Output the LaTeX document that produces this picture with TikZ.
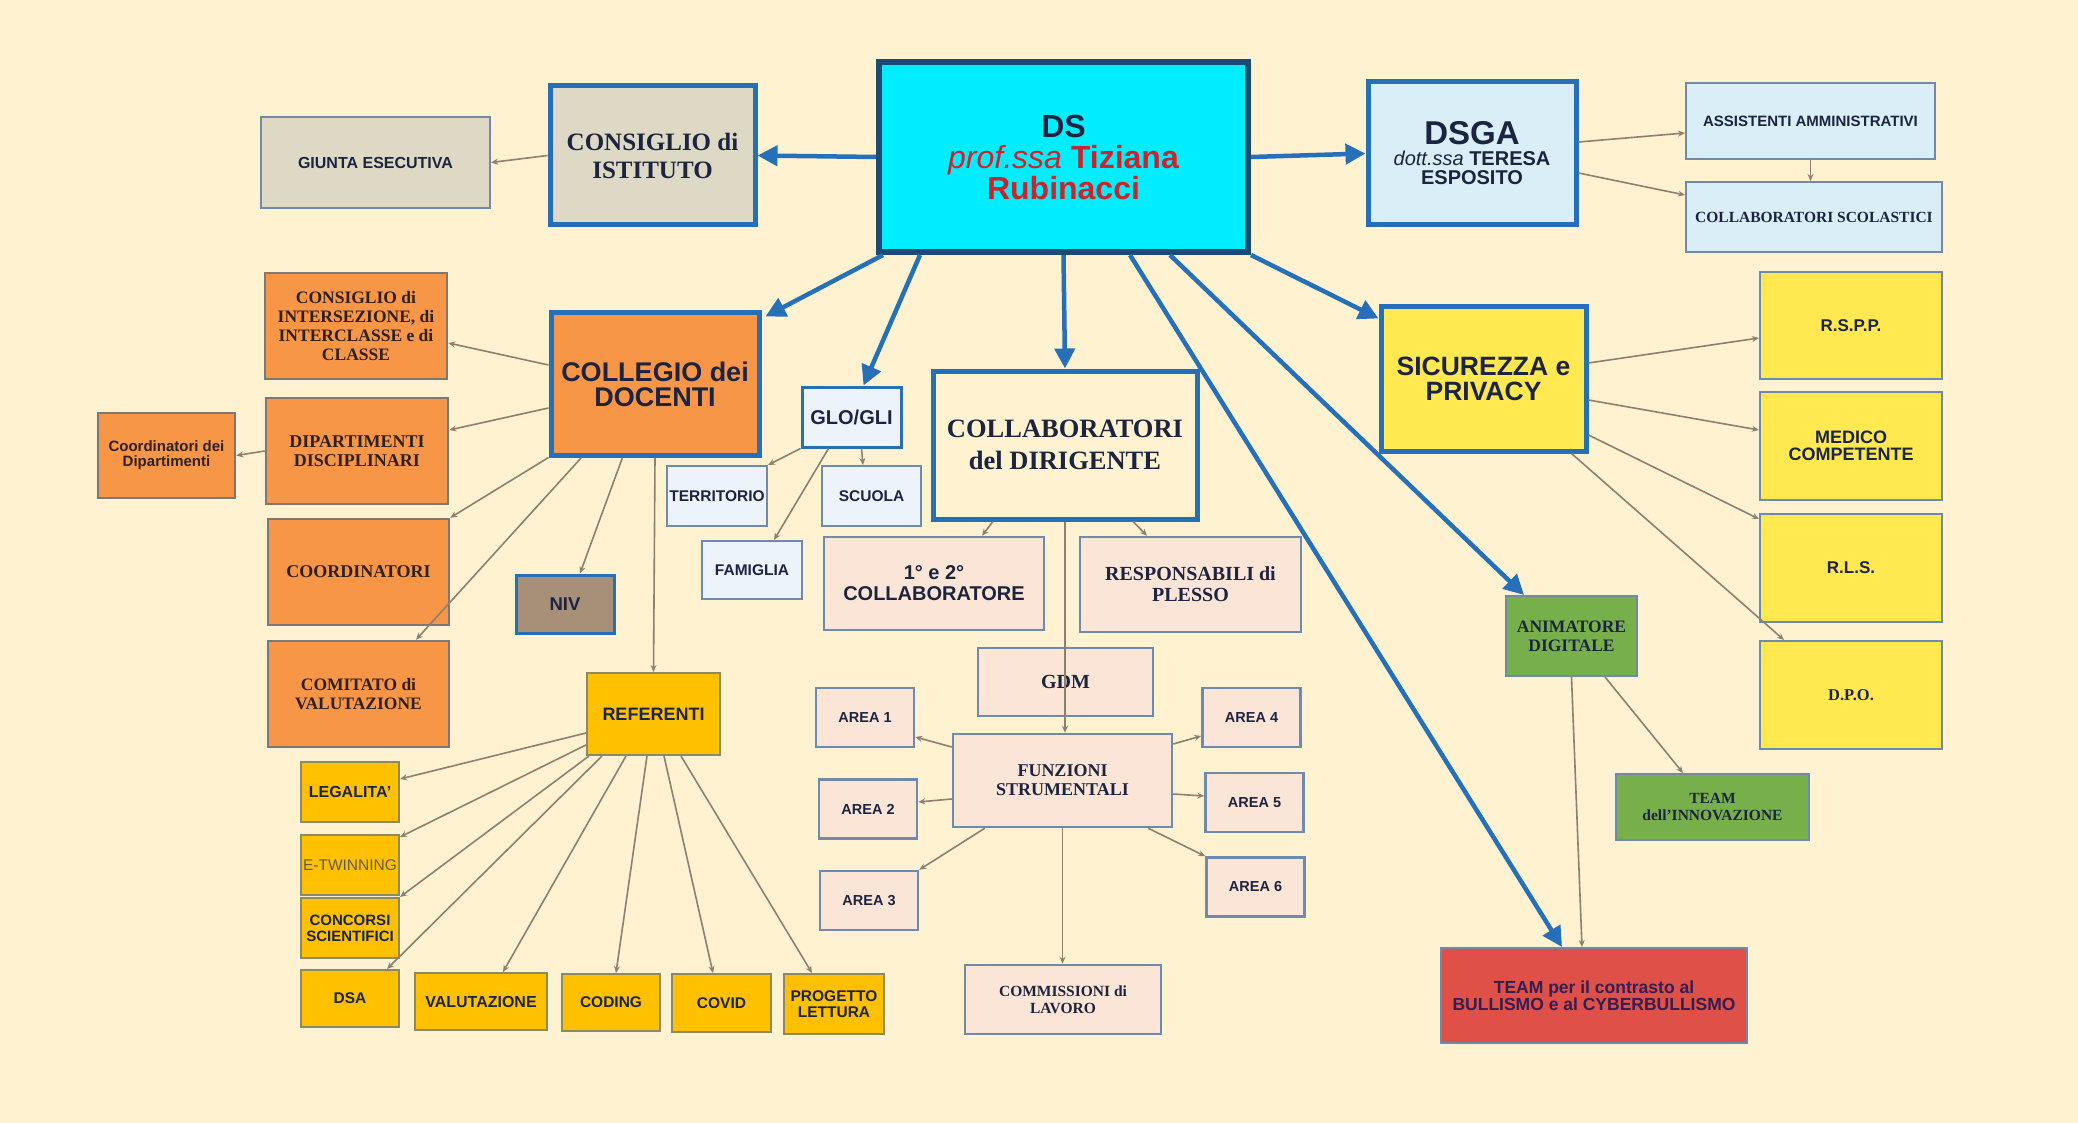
\documentclass[tikz,border=0pt]{standalone}
\usepackage{fontspec}
\setmainfont{Liberation Serif}
\setsansfont{Liberation Sans}
\usetikzlibrary{arrows.meta}

\definecolor{bgCream}{RGB}{254,242,208}
\definecolor{dsCyan}{RGB}{0,236,255}
\definecolor{dsBorder}{RGB}{27,74,116}
\definecolor{mainBlue}{RGB}{38,112,186}
\definecolor{thinGray}{RGB}{140,128,114}
\definecolor{slateEdge}{RGB}{110,138,172}
\definecolor{boxGray}{RGB}{125,120,115}
\definecolor{oliveEdge}{RGB}{140,138,100}
\definecolor{stoneFill}{RGB}{221,217,196}
\definecolor{paleBlue}{RGB}{218,238,247}
\definecolor{orangeFill}{RGB}{247,150,70}
\definecolor{nivFill}{RGB}{168,144,120}
\definecolor{iceFill}{RGB}{236,243,251}
\definecolor{peachFill}{RGB}{251,229,214}
\definecolor{amberFill}{RGB}{255,192,0}
\definecolor{lemonFill}{RGB}{255,232,80}
\definecolor{greenFill}{RGB}{119,176,74}
\definecolor{redFill}{RGB}{222,80,72}
\definecolor{textNavy}{RGB}{28,36,64}
\definecolor{textBrown}{RGB}{48,32,26}
\definecolor{nameRed}{RGB}{200,38,44}
\definecolor{etwinText}{RGB}{105,90,62}
\definecolor{bullText}{RGB}{52,30,82}

\newcommand\fsz[2]{\fontsize{#1}{#2}\selectfont}

\tikzset{
	wh/.style 2 args={minimum width=#1pt, minimum height=#2pt},
	sans/.style 2 args={font=\sffamily\bfseries\fsz{#1}{#2}},
	serif/.style 2 args={font=\rmfamily\bfseries\fsz{#1}{#2}},
	box/.style={draw=slateEdge, line width=2pt, align=center, inner sep=1pt, text=textNavy},
	blueFrame/.style={draw=mainBlue, line width=5pt},
	stoneBox/.style={box, fill=stoneFill},
	paleBox/.style={box, fill=paleBlue},
	orangeBox/.style={box, fill=orangeFill, draw=boxGray, line width=2.5pt, text=textBrown},
	iceBox/.style={box, fill=iceFill},
	peachBox/.style={box, fill=peachFill, line width=2.5pt},
	amberBox/.style={box, fill=amberFill, draw=oliveEdge},
	lemonBox/.style={box, fill=lemonFill},
	greenBox/.style={box, fill=greenFill},
	mainArrow/.style={draw=mainBlue, line width=4.5pt, -{Triangle[length=20pt,width=20pt]}},
	thinArrow/.style={draw=thinGray, line width=1.6pt, -{Stealth[length=7pt,width=6pt]}},
}

\begin{document}
\begin{tikzpicture}[x=1pt, y=-1pt]
	\fill[bgCream] (0,0) rectangle (2078,1123);
	\useasboundingbox (0,0) rectangle (2078,1123);

	% vertice e primo livello
	\node[box, draw=dsBorder, line width=6pt, fill=dsCyan, wh={369}{190}, sans={32}{31}] (ds) at (1063.5,157)
		{DS\\{\color{nameRed}\mdseries\itshape prof.ssa} {\color{nameRed}Tiziana}\\{\color{nameRed}Rubinacci}};
	\node[stoneBox, wh={229}{91}, sans={16}{18}] (giunta) at (375.5,162.5) {GIUNTA ESECUTIVA};
	\node[stoneBox, blueFrame, wh={205}{139}, serif={25}{28}] (ci) at (652.5,155.5) {CONSIGLIO di\\ISTITUTO};
	\node[paleBox, blueFrame, wh={208}{143}, sans={20}{19}] (dsga) at (1472,153.5)
		{{\fsz{33}{33}DSGA}\\[2pt]{\mdseries\itshape dott.ssa} TERESA\\ESPOSITO};
	\node[paleBox, wh={249}{76}, sans={15}{16}] (assist) at (1810.5,121) {ASSISTENTI AMMINISTRATIVI};
	\node[paleBox, wh={256}{70}, serif={15.5}{17}] (collscol) at (1814,217) {COLLABORATORI SCOLASTICI};

	% collegio dei docenti
	\node[orangeBox, blueFrame, wh={208}{142}, sans={27}{25}, text=textNavy] (collegio) at (655,384) {COLLEGIO dei\\DOCENTI};
	\node[orangeBox, wh={182}{106}, serif={17.5}{19}] (consint) at (356,326) {CONSIGLIO di\\INTERSEZIONE, di\\INTERCLASSE e di\\CLASSE};
	\node[orangeBox, wh={182}{106}, serif={18}{19}] (dipart) at (357,451) {DIPARTIMENTI\\DISCIPLINARI};
	\node[orangeBox, wh={137}{85}, sans={15}{15}] (coorddip) at (166.5,455.5) {Coordinatori dei\\Dipartimenti};
	\node[orangeBox, wh={181}{106}, serif={18}{19}] (coord) at (358.5,572) {COORDINATORI};
	\node[orangeBox, wh={181}{106}, serif={17.5}{19}] (comitato) at (358.5,694) {COMITATO di\\VALUTAZIONE};
	\node[box, fill=nivFill, draw=mainBlue, line width=3pt, wh={98}{58}, sans={18.5}{19}] (niv) at (565,604) {NIV};

	\node[iceBox, draw=mainBlue, line width=3pt, wh={99}{60}, sans={20}{20}] (glo) at (851.5,417) {GLO/GLI};
	\node[iceBox, wh={100}{60}, sans={15.5}{16}] (territ) at (717,496) {TERRITORIO};
	\node[iceBox, wh={99}{60}, sans={15.5}{16}] (scuola) at (871.5,496) {SCUOLA};
	\node[iceBox, wh={100}{58}, sans={15.5}{16}] (famiglia) at (752,570) {FAMIGLIA};

	% collaboratori del dirigente
	\node[box, blueFrame, fill=bgCream, wh={264}{148}, serif={26.5}{32}] (colldir) at (1065,445) {COLLABORATORI\\del DIRIGENTE};
	\node[peachBox, wh={220}{93}, sans={20}{21}] (primo) at (934,583.5) {1° e 2°\\COLLABORATORE};
	\node[peachBox, wh={221}{95}, serif={20}{21}] (respons) at (1190.5,584.5) {RESPONSABILI di\\PLESSO};
	\node[peachBox, wh={175}{68}, serif={20}{21}] (gdm) at (1065.5,682) {GDM};
	\node[peachBox, wh={219}{93}, serif={18}{19}] (funz) at (1062.5,780.5) {FUNZIONI\\STRUMENTALI};
	\foreach \n/\x/\y in {1/865/717.5, 2/868/809, 3/869/900.5, 4/1251.5/717.5, 5/1254.5/802.5, 6/1255.5/887}
		\node[peachBox, wh={98}{59}, sans={14.5}{16}] (area\n) at (\x,\y) {AREA \n};
	\node[peachBox, wh={196}{69}, serif={15.5}{17}] (commiss) at (1063,999.5) {COMMISSIONI di\\LAVORO};

	% referenti
	\node[amberBox, wh={133}{82}, sans={18}{18}] (referenti) at (653.5,714) {REFERENTI};
	\node[amberBox, wh={98}{60}, sans={16}{17}] (legal) at (350,792) {LEGALITA'};
	\node[amberBox, wh={98}{60}, font=\sffamily\fsz{15.5}{17}, text=etwinText] (etwin) at (350,865) {E-TWINNING};
	\node[amberBox, wh={98}{60}, sans={15}{16}] (concorsi) at (350,928) {CONCORSI\\SCIENTIFICI};
	\node[amberBox, wh={98}{57}, sans={15.5}{17}] (dsa) at (350,998.5) {DSA};
	\node[amberBox, wh={132}{57}, sans={16}{17}] (valut) at (481,1001.5) {VALUTAZIONE};
	\node[amberBox, wh={98}{57}, sans={15.5}{17}] (coding) at (611,1002.5) {CODING};
	\node[amberBox, wh={99}{58}, sans={15.5}{17}] (covid) at (721.5,1003) {COVID};
	\node[amberBox, wh={100}{60}, sans={15.5}{16}] (progetto) at (834,1004) {PROGETTO\\LETTURA};

	% sicurezza e digitale
	\node[lemonBox, blueFrame, wh={205}{144}, sans={26.5}{25}] (sicur) at (1483.5,379) {SICUREZZA e\\PRIVACY};
	\node[lemonBox, wh={182}{107}, sans={17}{17}] (rspp) at (1851,325.5) {R.S.P.P.};
	\node[lemonBox, wh={182}{108}, sans={18}{17}] (medico) at (1851,446) {MEDICO\\COMPETENTE};
	\node[lemonBox, wh={182}{108}, sans={17}{17}] (rls) at (1851,568) {R.L.S.};
	\node[lemonBox, wh={182}{108}, serif={16.5}{17}] (dpo) at (1851,695) {D.P.O.};
	\node[greenBox, wh={131}{80}, serif={17.5}{19}] (animat) at (1571.5,636) {ANIMATORE\\DIGITALE};
	\node[greenBox, wh={193}{66}, serif={15.5}{17}] (teaminn) at (1712.5,807) {TEAM\\dell'INNOVAZIONE};
	\node[box, fill=redFill, wh={306}{95}, sans={17.5}{17}, text=bullText] (bullismo) at (1594,995.5)
		{TEAM per il contrasto al\\BULLISMO e al CYBERBULLISMO};

	% frecce principali
	\draw[mainArrow] (ds.west) to (ci.east);
	\draw[mainArrow] (ds.east) to (dsga.west);
	\draw[mainArrow] ([xshift=7pt]ds.south west) to ([xshift=4pt,yshift=-6pt]collegio.north east);
	\draw[mainArrow] ([xshift=44pt]ds.south west) to ([xshift=12pt]glo.north);
	\draw[mainArrow] (ds.south) to (colldir.north);
	\draw[mainArrow] (ds.south east) to ([yshift=-14pt]sicur.north west);
	\draw[mainArrow] ([xshift=-81pt]ds.south east) to ([xshift=-47.5pt]animat.north);
	\draw[mainArrow] ([xshift=-121pt]ds.south east) to ([xshift=-32pt]bullismo.north);

	\draw[thinArrow] (ci.west) to (giunta.east);
	\draw[thinArrow] ([yshift=11.5pt]dsga.east) to ([yshift=-12pt]assist.west);
	\draw[thinArrow] ([yshift=-19.5pt]dsga.east) to ([yshift=22pt]collscol.west);
	\draw[thinArrow] (assist.south) to (assist.south |- collscol.north);

	\draw[thinArrow] ([yshift=19pt]collegio.west) to ([yshift=-17pt]consint.east);
	\draw[thinArrow] ([yshift=-24pt]collegio.west) to ([yshift=21pt]dipart.east);
	\draw[thinArrow] (dipart.west) to (coorddip.east);
	\draw[thinArrow] (collegio.south west) to (coord.north east);
	\draw[thinArrow] ([xshift=33pt]collegio.south west) to ([xshift=57.5pt]comitato.north);
	\draw[thinArrow] ([xshift=74pt]collegio.south west) to ([xshift=15pt]niv.north);
	\draw[thinArrow] (collegio.south) to (referenti.north);

	\draw[thinArrow] (glo.south west) to (territ.north east);
	\draw[thinArrow] ([xshift=28pt]glo.south west) to ([xshift=22pt]famiglia.north);
	\draw[thinArrow] ([xshift=10pt]glo.south) to ([xshift=-8.5pt]scuola.north);

	\draw[thinArrow] ([xshift=-72pt]colldir.south) to ([xshift=48pt]primo.north);
	\draw[thinArrow] ([xshift=68pt]colldir.south) to ([xshift=-43.5pt]respons.north);
	\draw[thinArrow] (colldir.south) to (colldir.south |- funz.north);
	\draw[thinArrow] (funz.south) to (funz.south |- commiss.north);
	\draw[thinArrow] ([yshift=33.5pt]funz.west) to ([yshift=-19.5pt]area1.east);
	\draw[thinArrow] ([yshift=-18.5pt]funz.west) to ([yshift=7pt]area2.east);
	\draw[thinArrow] ([xshift=33pt]funz.south west) to (area3.north east);
	\draw[thinArrow] ([yshift=36.5pt]funz.east) to ([yshift=-18.5pt]area4.west);
	\draw[thinArrow] ([yshift=-13.5pt]funz.east) to ([yshift=6.5pt]area5.west);
	\draw[thinArrow] ([xshift=-25pt]funz.south east) to (area6.north west);

	\draw[thinArrow] ([yshift=-19pt]referenti.west) to ([yshift=-18pt]legal.north east);
	\draw[thinArrow] ([yshift=-31pt]referenti.west) to ([yshift=-3pt]etwin.north east);
	\draw[thinArrow] ([xshift=3pt]referenti.south west) to (concorsi.north east);
	\foreach \a/\t/\s in {16/dsa/37, 40/valut/22, 61/coding/5, 78/covid/-8.5, 95/progetto/-22}
		\draw[thinArrow] ([xshift=\a pt]referenti.south west) to ([xshift=\s pt]\t.north);

	\draw[thinArrow] ([yshift=16pt]sicur.east) to ([yshift=-12.5pt]rspp.west);
	\draw[thinArrow] ([yshift=-21pt]sicur.east) to ([yshift=16pt]medico.west);
	\draw[thinArrow] ([yshift=-56pt]sicur.east) to ([yshift=-6pt]rls.north west);
	\draw[thinArrow] ([xshift=-17pt]sicur.south east) to ([xshift=25pt]dpo.north west);
	\draw[thinArrow] ([xshift=33.5pt]animat.south) to ([xshift=-29.5pt]teaminn.north);
	\draw[thinArrow] (animat.south) to ([xshift=-12pt]bullismo.north);
\end{tikzpicture}
\end{document}
